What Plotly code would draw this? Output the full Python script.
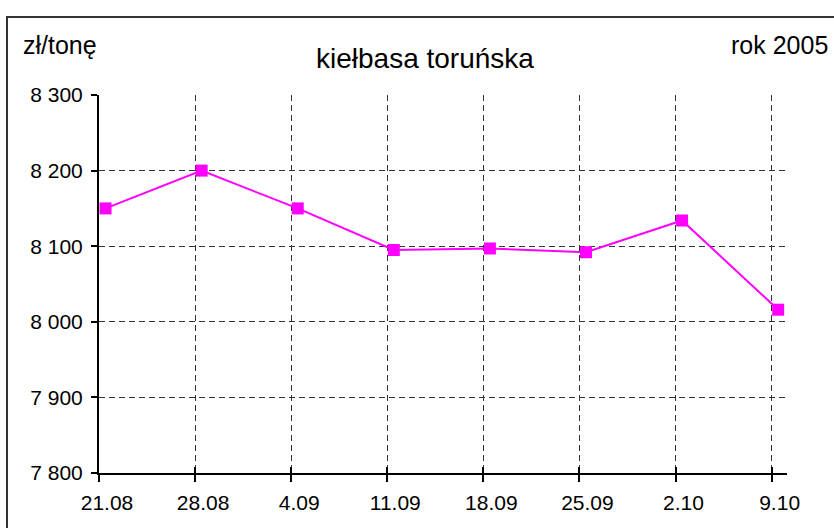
import plotly.graph_objects as go

categories = ["21.08", "28.08", "4.09", "11.09", "18.09", "25.09", "2.10", "9.10"]
prices = [8150, 8200, 8150, 8095, 8097, 8092, 8134, 8016]
y_ticks = [7800, 7900, 8000, 8100, 8200, 8300]
y_tick_labels = ["7 800", "7 900", "8 000", "8 100", "8 200", "8 300"]

POINT_OFFSET = 0.068
idx = list(range(len(categories)))
xs = [i + POINT_OFFSET for i in idx]

FONT = "Liberation Sans, Arial, sans-serif"
GRID = "#333333"

W, H = 834, 528
# plot area in page pixels
PL, PR, PT, PB = 99, 787, 95, 473
pw, ph = PR - PL, PB - PT


def px_x(x):
    return (x - PL) / pw


def px_y(y):
    return 1 - (y - PT) / ph


fig = go.Figure()
fig.add_trace(go.Scatter(
    x=xs, y=prices, mode="lines+markers",
    line=dict(color="#FF00FF", width=2),
    marker=dict(symbol="square", size=12, color="#FF00FF"),
    hoverinfo="skip", showlegend=False,
))
fig.add_trace(go.Scatter(
    x=xs, y=prices, mode="lines", xaxis="x2",
    line=dict(color="rgba(0,0,0,0)", width=0),
    hoverinfo="skip", showlegend=False,
))

xr = [0, 7.16]
fig.update_layout(
    width=W, height=H,
    margin=dict(l=PL, r=W - PR, t=PT, b=H - PB),
    paper_bgcolor="white", plot_bgcolor="white",
    font=dict(family=FONT, color="black", size=21),
    xaxis=dict(
        range=xr, tickmode="array", tickvals=idx, ticktext=categories,
        ticks="outside", ticklen=7, tickwidth=1.5, tickcolor="black",
        ticklabelshift=8, ticklabelstandoff=3,
        showline=True, linecolor="black", linewidth=2,
        showgrid=True, gridcolor=GRID, gridwidth=1, griddash="6px,4px",
        zeroline=False, tickfont=dict(size=21, family=FONT, color="black"),
    ),
    xaxis2=dict(
        range=xr, overlaying="x", anchor="y", side="bottom",
        tickmode="array", tickvals=idx, ticktext=[""] * len(idx),
        ticks="inside", ticklen=6, tickwidth=1.5, tickcolor="black",
        showline=False, showgrid=False, zeroline=False, showticklabels=False,
    ),
    yaxis=dict(
        range=[7800, 8300], tickmode="array", tickvals=y_ticks, ticktext=y_tick_labels,
        ticks="outside", ticklen=6, tickwidth=1.5, tickcolor="black",
        ticklabelstandoff=4,
        showline=True, linecolor="black", linewidth=2,
        showgrid=True, gridcolor=GRID, gridwidth=1, griddash="6px,4px",
        zeroline=False, tickfont=dict(size=21, family=FONT, color="black"),
    ),
    annotations=[
        dict(text="kiełbasa toruńska", x=px_x(425), y=px_y(59), xref="paper", yref="paper",
             xanchor="center", yanchor="middle", showarrow=False,
             font=dict(size=28, family=FONT, color="black")),
        dict(text="zł/tonę", x=px_x(21), y=px_y(45), xref="paper", yref="paper",
             xanchor="left", yanchor="middle", showarrow=False,
             font=dict(size=25, family=FONT, color="black")),
        dict(text="rok 2005", x=px_x(830), y=px_y(45), xref="paper", yref="paper",
             xanchor="right", yanchor="middle", showarrow=False,
             font=dict(size=25, family=FONT, color="black")),
    ],
)

fig.add_shape(type="rect", xref="paper", yref="paper",
              x0=px_x(7), x1=px_x(860),
              y0=px_y(560), y1=px_y(17),
              line=dict(color="#333333", width=2), fillcolor="rgba(0,0,0,0)",
              layer="below")

fig.write_html("out.html",
               config={"displayModeBar": False},
               post_script="document.body.style.margin='0';document.body.style.overflow='hidden';")
